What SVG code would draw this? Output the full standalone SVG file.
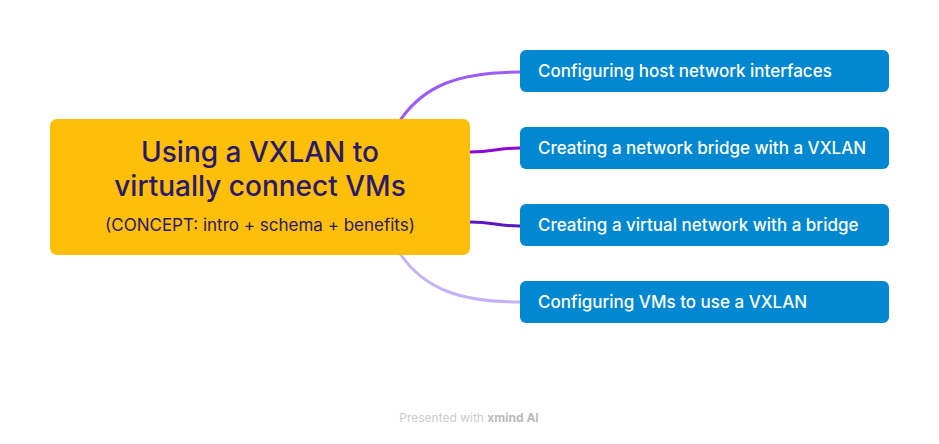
<svg xmlns="http://www.w3.org/2000/svg" width="939" height="444" viewBox="0 0 939 444">
<style>
.bg{fill:#ffffff}
.central{fill:#FDBF0A}
.ct{font-family:Inter,"Open Sans",sans-serif;fill:#2B1A6B;text-anchor:middle}
.title{font-size:28px;font-weight:500}
.sub{font-size:17px;font-weight:400}
.topic{fill:#0288D1}
.tt{font-family:Inter,"Open Sans",sans-serif;font-size:17px;fill:#ffffff;font-weight:500}
.conn{fill:none;stroke-width:3;stroke-linecap:round}
.foot{font-family:Inter,"Open Sans",sans-serif;font-size:12px;fill:#CCCCCC;text-anchor:middle}
</style>
<rect class="bg" x="0" y="0" width="939" height="444"/>
<g id="connectors">
<path class="conn" stroke="#9B5CF6" d="M401,119 C425,85 460,72 520,72"/>
<path class="conn" stroke="#8E07D8" d="M470,152 C495,152 495,148 520,148"/>
<path class="conn" stroke="#5A18C4" d="M470,222 C495,222 495,226 520,226"/>
<path class="conn" stroke="#C4B1F6" d="M401,255 C425,289 460,302 520,302"/>
</g>
<g id="central">
<rect class="central" x="50" y="119" width="420" height="136" rx="7"/>
<text class="ct title" x="260" y="162">Using a VXLAN to</text>
<text class="ct title" x="260" y="196">virtually connect VMs</text>
<text class="ct sub" x="260" y="231">(CONCEPT: intro + schema + benefits)</text>
</g>
<g id="topic1">
<rect class="topic" x="520" y="50" width="369" height="42" rx="6"/>
<text class="tt" x="538" y="77">Configuring host network interfaces</text>
</g>
<g id="topic2">
<rect class="topic" x="520" y="127" width="369" height="42" rx="6"/>
<text class="tt" x="538" y="154">Creating a network bridge with a VXLAN</text>
</g>
<g id="topic3">
<rect class="topic" x="520" y="204" width="369" height="42" rx="6"/>
<text class="tt" x="538" y="231">Creating a virtual network with a bridge</text>
</g>
<g id="topic4">
<rect class="topic" x="520" y="281" width="369" height="42" rx="6"/>
<text class="tt" x="538" y="308">Configuring VMs to use a VXLAN</text>
</g>
<text class="foot" x="469" y="422">Presented with <tspan font-weight="700" fill="#BBBBBB">xmind AI</tspan></text>
</svg>
